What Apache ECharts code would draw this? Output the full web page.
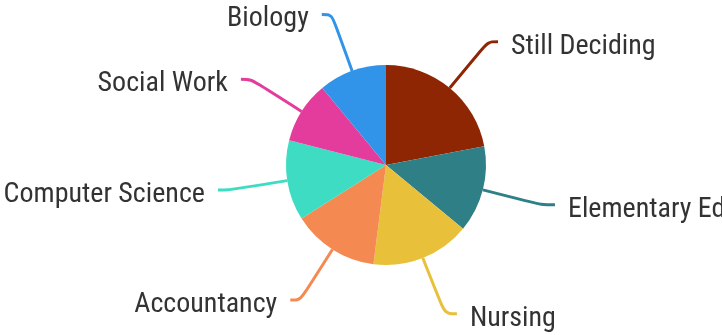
<!DOCTYPE html>
<html>
<head>
<meta charset="utf-8">
<script src="https://cdn.jsdelivr.net/npm/echarts@6/dist/echarts.min.js"></script>
<style>
    html, body { margin: 0; padding: 0; background: #fff; }
    #chart { width: 722px; height: 335px; }
</style>
</head>
<body>
<div id="chart"></div>
<script>
const majors = ['Still Deciding', 'Elementary Ed', 'Nursing', 'Accountancy', 'Computer Science', 'Social Work', 'Biology'];
const shares = [22, 14, 16, 14, 13, 10, 11];
const colors = ['#8E2604', '#2F8086', '#E8C03A', '#F48A52', '#3EDCC3', '#E43C9C', '#3294E8'];
// second label-line segment, a bit longer for the two lower-right labels
const tailLengths = [10, 14, 12, 10, 10, 10, 10];

const labelFont = "'Roboto Condensed', 'Liberation Sans Narrow', Roboto, sans-serif";

const chart = echarts.init(document.getElementById('chart'));
chart.setOption({
    animation: false,
    color: colors,
    series: [
        {
            type: 'pie',
            center: [386, 165],
            radius: [0, 100],
            startAngle: 90,
            avoidLabelOverlap: false,
            label: {
                show: true,
                position: 'outside',
                color: '#333',
                fontSize: 28,
                fontFamily: labelFont,
                overflow: 'none',
                distanceToLabelLine: 13,
                formatter: '{t|{b}}',
                rich: {
                    t: {
                        color: '#333',
                        fontSize: 28,
                        fontFamily: labelFont,
                        padding: [10, 0, 0, 0]
                    }
                }
            },
            labelLine: {
                show: true,
                length: 60,
                length2: 10,
                smooth: 0.35,
                lineStyle: { width: 3 }
            },
            emphasis: { disabled: true },
            data: majors.map((name, i) => ({
                name,
                value: shares[i],
                labelLine: { length2: tailLengths[i] }
            }))
        }
    ]
});
</script>
</body>
</html>
